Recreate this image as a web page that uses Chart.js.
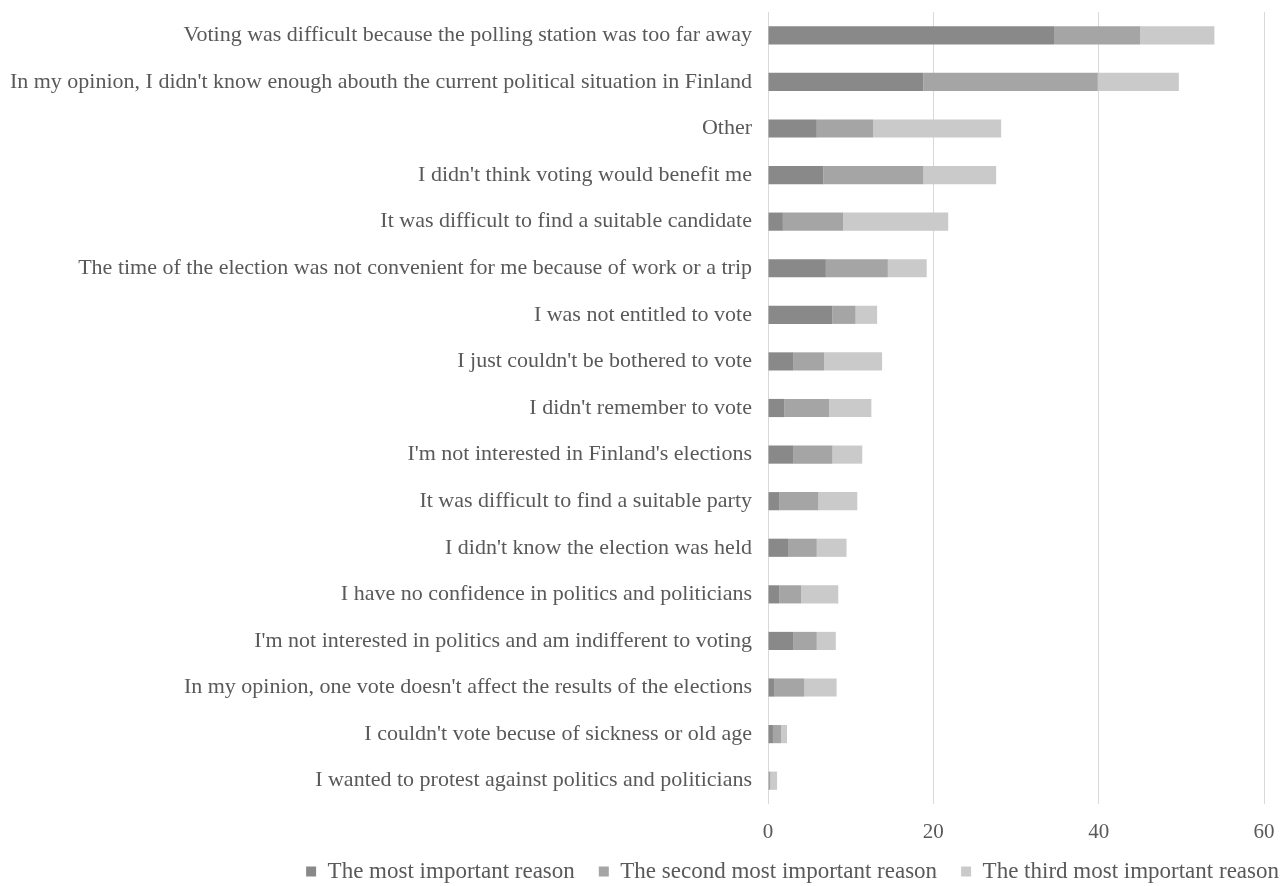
<!DOCTYPE html>
<html>
<head>
<meta charset="utf-8">
<script src="https://cdn.jsdelivr.net/npm/chart.js@4/dist/chart.umd.min.js"></script>
<style>
  html, body { margin: 0; padding: 0; background: #fff; }
  #wrap { width: 1281px; height: 886px; }
</style>
</head>
<body>
<div id="wrap"><canvas id="chart" width="1281" height="886"></canvas></div>
<script>
// reasons for not voting, top to bottom
const categories = [
  "Voting was difficult because the polling station was too far away",
  "In my opinion, I didn't know enough abouth the current political situation in Finland",
  "Other",
  "I didn't think voting would benefit me",
  "It was difficult to find a suitable candidate",
  "The time of the election was not convenient for me because of work or a trip",
  "I was not entitled to vote",
  "I just couldn't be bothered to vote",
  "I didn't remember to vote",
  "I'm not interested in Finland's elections",
  "It was difficult to find a suitable party",
  "I didn't know the election was held",
  "I have no confidence in politics and politicians",
  "I'm not interested in politics and am indifferent to voting",
  "In my opinion, one vote doesn't affect the results of the elections",
  "I couldn't vote becuse of sickness or old age",
  "I wanted to protest against politics and politicians"
];

const mostImportant   = [34.6, 18.8, 5.9, 6.7, 1.8, 7.0, 7.8, 3.1, 2.0, 3.1, 1.4, 2.5, 1.4, 3.1, 0.8, 0.6, 0.0];
const secondImportant = [10.4, 21.1, 6.8, 12.1, 7.3, 7.5, 2.8, 3.7, 5.4, 4.7, 4.7, 3.4, 2.6, 2.8, 3.6, 1.0, 0.3];
const thirdImportant  = [9.0, 9.8, 15.5, 8.8, 12.7, 4.7, 2.6, 7.0, 5.1, 3.6, 4.7, 3.6, 4.5, 2.3, 3.9, 0.7, 0.8];

const seriesNames = [
  "The most important reason",
  "The second most important reason",
  "The third most important reason"
];
const xTicks = [0, 20, 40, 60];

const serif = "'Liberation Serif', 'Times New Roman', serif";
const textColor = '#595959';

const makeSet = (label, data, color) => ({
  label: label,
  data: data,
  backgroundColor: color,
  borderWidth: 0,
  categoryPercentage: 0.39,
  barPercentage: 1
});

// legend: small fixed height, then its box is stretched up/right so the
// text sits like the reference (legend clips to its own box)
const legendPlacement = {
  id: 'legendPlacement',
  afterInit(chart) {
    const lg = chart.legend;
    const fit = lg.fit;
    lg.fit = function () { fit.call(this); this.height = 36; };
  },
  afterLayout(chart) {
    const lg = chart.legend;
    lg.left += 22;
    lg.right += 22;
    lg.top -= 14;
  }
};

new Chart(document.getElementById('chart'), {
  type: 'bar',
  data: {
    labels: categories,
    datasets: [
      makeSet(seriesNames[0], mostImportant, '#898989'),
      makeSet(seriesNames[1], secondImportant, '#a5a5a5'),
      makeSet(seriesNames[2], thirdImportant, '#cacaca')
    ]
  },
  plugins: [legendPlacement],
  options: {
    indexAxis: 'y',
    responsive: false,
    animation: false,
    layout: { padding: { top: 12, right: 0, bottom: 0, left: 0 } },
    scales: {
      x: {
        stacked: true,
        min: 0,
        max: 60,
        afterBuildTicks: (axis) => { axis.ticks = xTicks.map(v => ({ value: v })); },
        // keep the plot's right edge and bottom where the reference has them
        afterFit: (axis) => { axis.paddingRight = 17; axis.paddingLeft = 0; axis.height = 46; },
        grid: { color: '#d9d9d9', drawTicks: false },
        border: { display: false },
        ticks: {
          padding: 16,
          color: textColor,
          font: { family: serif, size: 21 }
        }
      },
      y: {
        stacked: true,
        // long labels: let the axis take the full width it needs
        afterFit: (axis) => { axis.width = 768; axis.paddingTop = 0; axis.paddingBottom = 0; },
        grid: { display: false },
        border: { display: false },
        ticks: {
          padding: 8,
          color: textColor,
          autoSkip: false,
          font: { family: serif, size: 22 }
        }
      }
    },
    plugins: {
      legend: {
        position: 'bottom',
        align: 'end',
        labels: {
          boxWidth: 10,
          boxHeight: 10,
          padding: 24,
          color: textColor,
          font: { family: serif, size: 23, lineHeight: 1 }
        }
      },
      tooltip: { enabled: false }
    }
  }
});
</script>
</body>
</html>
